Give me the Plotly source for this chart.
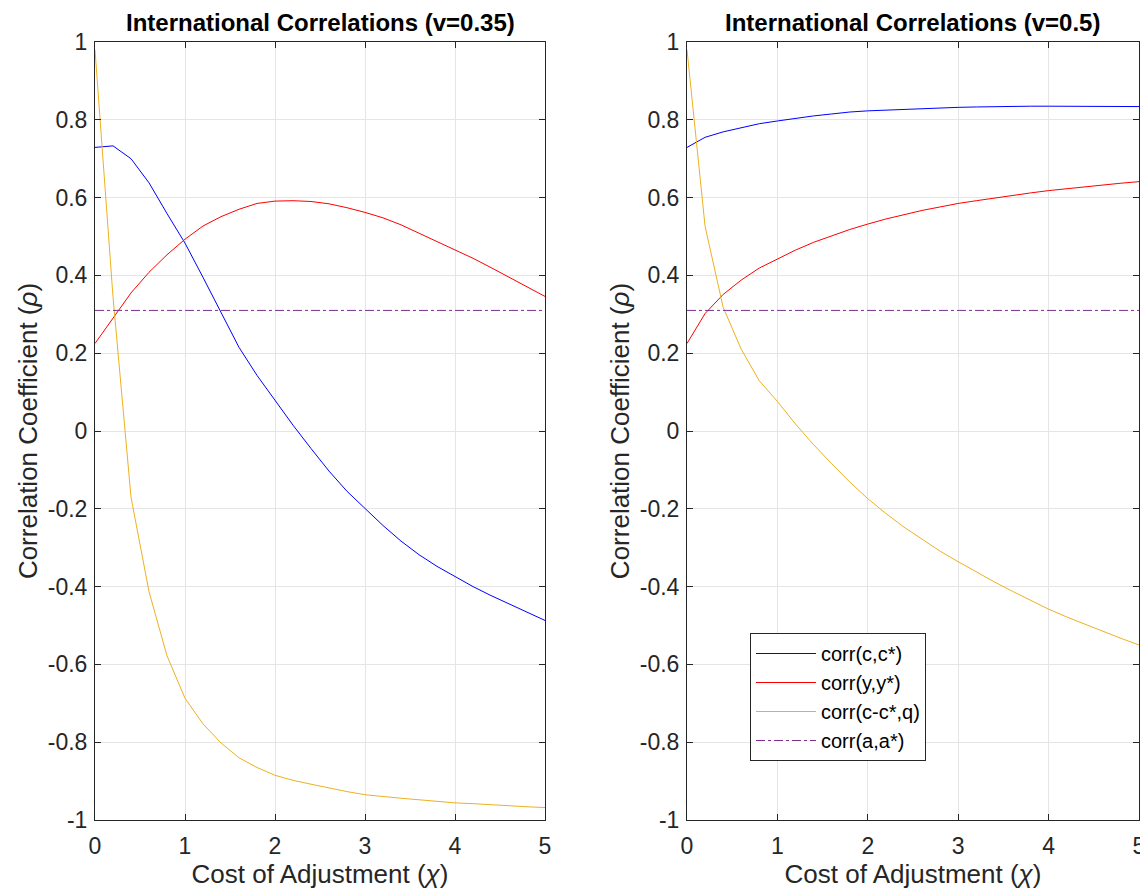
import plotly.graph_objects as go

chi = [0.0, 0.2, 0.4, 0.6, 0.8, 1.0, 1.2, 1.4, 1.6, 1.8, 2.0, 2.2, 2.4, 2.6, 2.8,
       3.0, 3.2, 3.4, 3.6, 3.8, 4.0, 4.2, 4.4, 4.6, 4.8, 5.0]

# v = 0.35
cc_035 = [0.729, 0.733, 0.700, 0.638, 0.559, 0.483, 0.395, 0.303, 0.215, 0.143, 0.078,
          0.015, -0.045, -0.103, -0.155, -0.200, -0.243, -0.283, -0.318, -0.348, -0.375,
          -0.400, -0.423, -0.445, -0.466, -0.487]
yy_035 = [0.225, 0.291, 0.355, 0.408, 0.453, 0.493, 0.527, 0.551, 0.570, 0.585, 0.591,
          0.592, 0.590, 0.584, 0.574, 0.562, 0.548, 0.530, 0.509, 0.488, 0.466,
          0.444, 0.420, 0.395, 0.371, 0.346]
cq_035 = [0.980, 0.345, -0.170, -0.413, -0.578, -0.687, -0.753, -0.802, -0.840, -0.865,
          -0.885, -0.898, -0.908, -0.918, -0.927, -0.935, -0.940, -0.944, -0.948, -0.952,
          -0.956, -0.958, -0.961, -0.963, -0.966, -0.968]
aa_035 = [0.31] * len(chi)

# v = 0.5
cc_05 = [0.729, 0.755, 0.769, 0.780, 0.790, 0.797, 0.804, 0.810, 0.815, 0.820, 0.823,
         0.825, 0.827, 0.829, 0.831, 0.832, 0.833, 0.834, 0.835, 0.835, 0.835,
         0.835, 0.835, 0.835, 0.834, 0.834]
yy_05 = [0.225, 0.302, 0.351, 0.388, 0.419, 0.443, 0.465, 0.485, 0.502, 0.518, 0.532,
         0.545, 0.556, 0.567, 0.576, 0.585, 0.592, 0.599, 0.606, 0.612, 0.618,
         0.623, 0.628, 0.633, 0.637, 0.641]
cq_05 = [0.980, 0.526, 0.318, 0.210, 0.129, 0.076, 0.018, -0.035, -0.084, -0.131, -0.174,
         -0.212, -0.247, -0.279, -0.309, -0.336, -0.363, -0.388, -0.412, -0.435, -0.458,
         -0.478, -0.497, -0.515, -0.533, -0.550]
aa_05 = [0.31] * len(chi)

series_names = ["corr(c,c*)", "corr(y,y*)", "corr(c-c*,q)", "corr(a,a*)"]
colors = ["#0000FF", "#FF0000", "#EDB120", "#7E2F8E"]
dashes = ["solid", "solid", "solid", "dashdot"]

titles = ["International Correlations (v=0.35)", "International Correlations (v=0.5)"]
x_ticks = [0, 1, 2, 3, 4, 5]
y_ticks = [-1, -0.8, -0.6, -0.4, -0.2, 0, 0.2, 0.4, 0.6, 0.8, 1]
y_ticktext = ["-1", "-0.8", "-0.6", "-0.4", "-0.2", "0", "0.2", "0.4", "0.6", "0.8", "1"]

fig = go.Figure()

panels = [(cc_035, yy_035, cq_035, aa_035), (cc_05, yy_05, cq_05, aa_05)]
for p, data in enumerate(panels):
    xa = "x" if p == 0 else "x2"
    ya = "y" if p == 0 else "y2"
    for k, vals in enumerate(data):
        fig.add_trace(go.Scatter(
            x=chi, y=vals, mode="lines", name=series_names[k],
            line=dict(color=colors[k], width=1, dash=dashes[k]),
            xaxis=xa, yaxis=ya, showlegend=(p == 1),
        ))

# page body has an 8px margin; figure coordinates = screen coordinates - 8
OFF = 8
W, H = 1140, 884
dom_x = [[(95 - OFF) / W, (545 - OFF) / W], [(687 - OFF) / W, (1139 - OFF) / W]]
dom_y = [(H - (820 - OFF)) / H, (H - (42 - OFF)) / H]

FONT = "Liberation Sans, Arial, Helvetica, sans-serif"
axis_common = dict(
    showline=True, linecolor="#262626", linewidth=1, mirror="ticks",
    ticks="inside", ticklen=6, tickcolor="#262626",
    showgrid=True, gridcolor="#E5E5E5", gridwidth=1, zeroline=False,
    tickfont=dict(family=FONT, size=23, color="#262626"),
    automargin=False,
)
title_font = dict(family=FONT, size=26, color="#262626")

layout = dict(
    width=W, height=H,
    margin=dict(l=0, r=0, t=0, b=0),
    paper_bgcolor="white", plot_bgcolor="white",
    showlegend=True,
    legend=dict(
        x=(750 - OFF) / W, y=(H - (633 - OFF)) / H, xanchor="left", yanchor="top",
        bgcolor="white", bordercolor="#262626", borderwidth=1,
        font=dict(family=FONT, size=20, color="black"),
        tracegroupgap=0, itemwidth=60,
    ),
)
for p in range(2):
    sx = "" if p == 0 else "2"
    layout["xaxis" + sx] = dict(
        axis_common, domain=dom_x[p], range=[0, 5], tickvals=x_ticks,
        anchor="y" + sx, ticklabelstandoff=5,
        title=dict(text="Cost of Adjustment (<i>χ</i>)", font=title_font, standoff=6),
    )
    layout["yaxis" + sx] = dict(
        axis_common, domain=dom_y, range=[-1, 1], tickvals=y_ticks, ticktext=y_ticktext,
        anchor="x" + sx, ticklabelstandoff=2,
        title=dict(text="Correlation Coefficient (<i>ρ</i>)", font=title_font, standoff=2),
    )
fig.update_layout(**layout)

for p in range(2):
    fig.add_annotation(
        text="<b>" + titles[p] + "</b>", xref="paper", yref="paper",
        x=(dom_x[p][0] + dom_x[p][1]) / 2, y=(H - (22 - OFF)) / H,
        xanchor="center", yanchor="middle", showarrow=False,
        font=dict(family=FONT, size=24, color="black"),
    )

fig.write_html("out.html")
